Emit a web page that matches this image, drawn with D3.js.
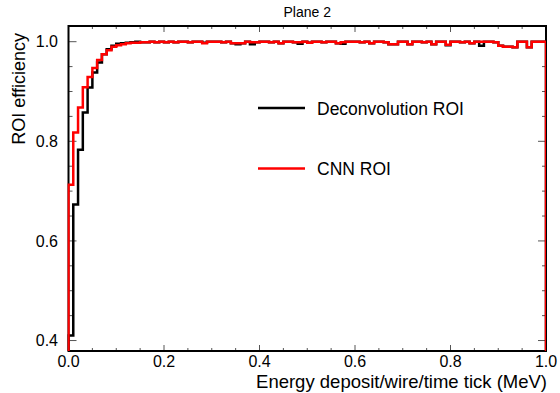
<!DOCTYPE html>
<html>
<head>
<meta charset="utf-8">
<script src="https://cdn.jsdelivr.net/npm/d3@7"></script>
<style>
  body { margin: 0; background: #fff; }
  svg { display: block; font-family: "Liberation Sans", Arial, sans-serif; }
</style>
</head>
<body>
<div id="chart"></div>
<script>
// bins of 0.01 MeV from 0 to 1
const binWidth = 0.01;
const xTickLabels = ["0.0", "0.2", "0.4", "0.6", "0.8", "1.0"];
const yTickLabels = ["0.4", "0.6", "0.8", "1.0"];
const seriesNames = ["Deconvolution ROI", "CNN ROI"];

const deconEff = [
  0.410, 0.673, 0.783, 0.858, 0.908, 0.938, 0.958, 0.975, 0.985, 0.992,
  0.996, 0.997, 0.998, 0.999, 1.000, 0.999, 0.999, 1.000, 0.999, 1.000,
  0.999, 1.000, 0.999, 1.000, 1.000, 0.999, 1.000, 1.000, 0.998, 1.000,
  1.000, 1.000, 0.999, 1.000, 0.997, 0.995, 0.997, 1.000, 0.995, 0.999,
  1.000, 1.000, 0.999, 1.000, 0.997, 1.000, 1.000, 0.999, 0.996, 1.000,
  0.998, 1.000, 1.000, 0.999, 1.000, 1.000, 0.997, 0.996, 1.000, 1.000,
  1.000, 0.999, 1.000, 0.997, 1.000, 1.000, 0.999, 0.995, 0.995, 1.000,
  1.000, 0.995, 1.000, 1.000, 0.999, 1.000, 0.995, 1.000, 1.000, 0.993,
  1.000, 1.000, 0.999, 1.000, 0.997, 1.000, 0.992, 1.000, 1.000, 0.999,
  0.992, 0.990, 0.990, 0.989, 1.000, 1.000, 0.989, 1.000, 1.000, 1.000
];

const cnnEff = [
  0.713, 0.8175, 0.868, 0.9085, 0.929, 0.947, 0.963, 0.975, 0.983, 0.990,
  0.993, 0.995, 0.997, 0.998, 0.998, 0.999, 0.999, 1.000, 0.999, 1.000,
  0.999, 1.000, 0.999, 1.000, 1.000, 0.999, 1.000, 1.000, 0.997, 1.000,
  1.000, 1.000, 0.999, 1.000, 0.997, 0.997, 0.997, 1.000, 0.999, 0.999,
  1.000, 1.000, 0.999, 1.000, 0.997, 1.000, 1.000, 0.999, 0.999, 1.000,
  0.998, 1.000, 1.000, 0.999, 1.000, 1.000, 0.997, 0.999, 1.000, 1.000,
  1.000, 0.999, 1.000, 0.997, 1.000, 1.000, 0.999, 0.995, 0.995, 1.000,
  1.000, 0.995, 1.000, 1.000, 0.999, 1.000, 0.995, 1.000, 1.000, 0.994,
  1.000, 1.000, 0.999, 1.000, 0.997, 1.000, 1.000, 1.000, 1.000, 0.999,
  0.992, 0.990, 0.990, 0.989, 1.000, 1.000, 0.989, 1.000, 1.000, 1.000
];

const width = 560, height = 393;
const frameLeft = 68.5, frameRight = 546, frameTop = 26, frameBottom = 351;

const x = d3.scaleLinear().domain([0, 1]).range([frameLeft, frameRight]);
const y = d3.scaleLinear().domain([0.379, 1.0315]).range([frameBottom, frameTop]);

const svg = d3.select("#chart")
  .append("svg")
  .attr("width", width)
  .attr("height", height);

svg.append("rect")
  .attr("width", width)
  .attr("height", height)
  .attr("fill", "white");

svg.append("defs").append("clipPath")
  .attr("id", "frame")
  .append("rect")
  .attr("x", frameLeft - 1)
  .attr("y", frameTop)
  .attr("width", frameRight - frameLeft + 1)
  .attr("height", frameBottom - frameTop);

// ticks (inward, on all four sides)
const xMajor = d3.range(6).map(i => i * 0.2);
const xMinor = d3.range(21).map(i => i * 0.05);
const yMajor = [0.4, 0.6, 0.8, 1.0];
const yMinor = d3.range(7, 21).map(i => i * 0.05).filter(v => v > 0.379 && v < 1.0315);

const ticks = svg.append("g")
  .attr("stroke", "#555")
  .attr("stroke-width", 1);

xMinor.forEach(v => {
  const len = xMajor.some(m => Math.abs(m - v) < 1e-6) ? 6 : 3;
  ticks.append("line").attr("x1", x(v)).attr("x2", x(v)).attr("y1", frameBottom).attr("y2", frameBottom - len);
  ticks.append("line").attr("x1", x(v)).attr("x2", x(v)).attr("y1", frameTop).attr("y2", frameTop + len);
});
yMinor.forEach(v => {
  const len = yMajor.some(m => Math.abs(m - v) < 1e-6) ? 8 : 4;
  ticks.append("line").attr("x1", frameLeft).attr("x2", frameLeft + len).attr("y1", y(v)).attr("y2", y(v));
  ticks.append("line").attr("x1", frameRight).attr("x2", frameRight - len).attr("y1", y(v)).attr("y2", y(v));
});

// histogram outline, drawn up from the bottom of the frame like ROOT does
function stepPath(values) {
  const p = d3.path();
  p.moveTo(x(0), y.range()[0]);
  values.forEach((v, i) => {
    p.lineTo(x(i * binWidth), y(v));
    p.lineTo(x((i + 1) * binWidth), y(v));
  });
  p.lineTo(x(values.length * binWidth), y.range()[0]);
  return p.toString();
}

// frame
svg.append("rect")
  .attr("x", frameLeft)
  .attr("y", frameTop)
  .attr("width", frameRight - frameLeft)
  .attr("height", frameBottom - frameTop)
  .attr("fill", "none")
  .attr("stroke", "black")
  .attr("stroke-width", 2);

const hist = svg.append("g")
  .attr("clip-path", "url(#frame)")
  .attr("fill", "none")
  .attr("stroke-width", 2.5)
  .attr("stroke-linejoin", "miter");

hist.append("path")
  .attr("d", stepPath(deconEff))
  .attr("stroke", "black");

hist.append("path")
  .attr("d", stepPath(cnnEff))
  .attr("stroke", "#ff0000");

// tick labels
svg.append("g")
  .attr("font-size", 16)
  .attr("text-anchor", "middle")
  .selectAll("text")
  .data(xMajor)
  .join("text")
  .attr("x", d => x(d))
  .attr("y", 367)
  .text((d, i) => xTickLabels[i]);

svg.append("g")
  .attr("font-size", 16)
  .attr("text-anchor", "end")
  .selectAll("text")
  .data(yMajor)
  .join("text")
  .attr("x", 58)
  .attr("y", d => y(d) + 5.8)
  .text((d, i) => yTickLabels[i]);

// titles
svg.append("text")
  .attr("x", (frameLeft + frameRight) / 2)
  .attr("y", 17)
  .attr("text-anchor", "middle")
  .attr("font-size", 14)
  .text("Plane 2");

svg.append("text")
  .attr("x", 547)
  .attr("y", 388)
  .attr("text-anchor", "end")
  .attr("font-size", 18.5)
  .text("Energy deposit/wire/time tick (MeV)");

svg.append("text")
  .attr("transform", "translate(25,33) rotate(-90)")
  .attr("text-anchor", "end")
  .attr("font-size", 18)
  .text("ROI efficiency");

// legend
const legend = svg.append("g")
  .selectAll("g")
  .data(seriesNames)
  .join("g")
  .attr("transform", (d, i) => `translate(258,${108 + i * 60.5})`);

legend.append("line")
  .attr("x1", 0)
  .attr("x2", 47)
  .attr("stroke", (d, i) => ["black", "#ff0000"][i])
  .attr("stroke-width", 2.5);

legend.append("text")
  .attr("x", 59)
  .attr("y", 6.5)
  .attr("font-size", 17.5)
  .text(d => d);
</script>
</body>
</html>
